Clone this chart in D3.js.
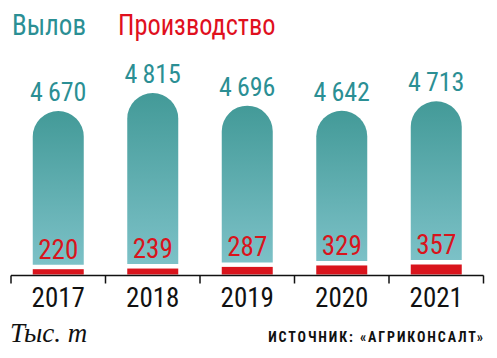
<!DOCTYPE html>
<html><head><meta charset="utf-8">
<script src="https://cdn.jsdelivr.net/npm/d3@7"></script>
<style>
html,body{margin:0;padding:0;background:#fff;}
svg{display:block;}
</style></head>
<body>
<svg id="chart" width="497" height="358"></svg>
<script>
const years = ["2017","2018","2019","2020","2021"];
const catch_ = [4670, 4815, 4696, 4642, 4713];
const production = [220, 239, 287, 329, 357];
const catchLabels = ["4\u2009670","4\u2009815","4\u2009696","4\u2009642","4\u2009713"];
const prodLabels = ["220","239","287","329","357"];
const legendLabels = ["Вылов","Производство"];
const unitLabel = "Тыс. т";
const sourceLabel = "ИСТОЧНИК: «АГРИКОНСАЛТ»";

const teal = "#2b8f94", red = "#d9141c";
const narrow = "'Liberation Sans Narrow','Arial Narrow','Roboto Condensed',sans-serif";

const svg = d3.select("#chart");
const baseY = 274.5, axisY = 275.5, gap = 4.5, barW = 51;

const x = d3.scaleBand().domain(years).range([11, 483.5]).paddingInner(0).paddingOuter(0);
const hTeal = d3.scaleLinear().domain([3390, 4815]).range([0, 171]);
const hRed = d3.scaleLinear().domain([65, 357]).range([0, 10]);

const defs = svg.append("defs");
const grad = defs.append("linearGradient").attr("id","tg").attr("x1",0).attr("y1",0).attr("x2",0).attr("y2",1);
grad.append("stop").attr("offset","0%").attr("stop-color","#439a98");
grad.append("stop").attr("offset","100%").attr("stop-color","#7cc1c7");

// legend
svg.append("g").attr("transform","translate(12,35) scale(0.9,1)")
  .append("text").attr("x",0).attr("y",0).attr("font-family",narrow).attr("font-size",30)
  .attr("fill",teal).text(legendLabels[0]);
svg.append("g").attr("transform","translate(118,35) scale(0.88,1)")
  .append("text").attr("x",0).attr("y",0).attr("font-family",narrow).attr("font-size",30)
  .attr("fill","#e0101e").text(legendLabels[1]);

const data = years.map((y,i)=>({y, c:catch_[i], p:production[i], cl:catchLabels[i], pl:prodLabels[i]}));

const g = svg.append("g");
data.forEach(d=>{
  const cx = x(d.y) + x.bandwidth()/2;
  const x0 = cx - barW/2;
  const rh = hRed(d.p);
  const redTop = baseY - rh;
  g.append("rect").attr("x",x0).attr("y",redTop).attr("width",barW).attr("height",rh).attr("fill",red);
  const tb = redTop - gap;
  const th = hTeal(d.c);
  const tt = tb - th;
  const r = barW/2;
  const path = `M${x0},${tb} L${x0},${tt+r} A${r},${r} 0 0 1 ${x0+barW},${tt+r} L${x0+barW},${tb} Z`;
  g.append("path").attr("d",path).attr("fill","url(#tg)");
  g.append("text").attr("x",cx).attr("y",tt-10).attr("text-anchor","middle")
    .attr("font-family",narrow).attr("font-size",26).attr("fill",teal).text(d.cl);
  g.append("text").attr("x",cx).attr("y",tb-6).attr("text-anchor","middle")
    .attr("font-family",narrow).attr("font-size",27).attr("fill",red).text(d.pl);
});

// axis
const axis = svg.append("g").attr("transform",`translate(0,${axisY})`);
axis.append("line").attr("x1",x.range()[0]).attr("x2",x.range()[1]).attr("stroke","#111").attr("stroke-width",1.5);
const tickPos = years.map(y=>x(y)).concat([x.range()[1]]);
axis.selectAll("line.t").data(tickPos).enter().append("line").attr("class","t")
  .attr("x1",d=>d).attr("x2",d=>d).attr("y1",0).attr("y2",8).attr("stroke","#111").attr("stroke-width",1.5);
axis.selectAll("text").data(years).enter().append("text")
  .attr("x",d=>x(d)+x.bandwidth()/2).attr("y",31.5).attr("text-anchor","middle")
  .attr("font-family",narrow).attr("font-size",27).attr("fill","#111").text(d=>d);

svg.append("text").attr("x",10).attr("y",342).attr("font-family","'Liberation Serif','DejaVu Serif',serif")
  .attr("font-style","italic").attr("font-size",27).attr("fill","#111").text(unitLabel);
svg.append("text").attr("x",485).attr("y",342).attr("text-anchor","end")
  .attr("font-family",narrow).attr("font-weight","bold").attr("font-size",14).attr("letter-spacing",1.9)
  .attr("fill","#111").text(sourceLabel);
</script>
</body></html>
